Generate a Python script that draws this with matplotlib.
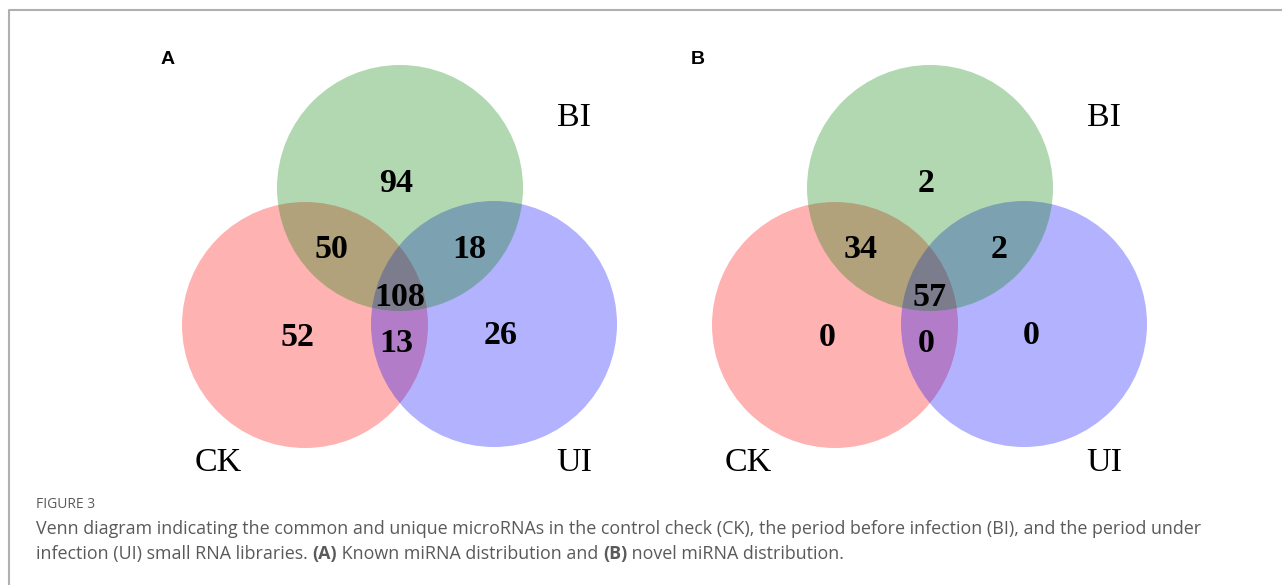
import matplotlib
matplotlib.use("Agg")
import matplotlib.pyplot as plt
from matplotlib.patches import Circle
from matplotlib.lines import Line2D

W, H = 1282, 585
set_names = ["CK", "BI", "UI"]
set_colors = ["red", "green", "blue"]
# region counts: only CK, only BI, only UI, CK&BI, BI&UI, CK&UI, all
known_counts = [52, 94, 26, 50, 18, 13, 108]
novel_counts = [0, 2, 0, 34, 2, 0, 57]
panel_letters = ["A", "B"]

fig = plt.figure(figsize=(W / 100, H / 100), dpi=100)
ax = fig.add_axes([0, 0, 1, 1])
ax.set_xlim(0, W)
ax.set_ylim(H, 0)
ax.axis("off")

# frame (top + left)
ax.add_line(Line2D([9, 9, W], [H, 10, 10], color="#b0b0b0", lw=1.5))

R = 123
centers = {"CK": (305, 325), "BI": (400, 188), "UI": (494, 324)}
draw_order = ["CK", "UI", "BI"]
color_of = dict(zip(set_names, set_colors))
region_pos = [(297, 337), (396, 183), (501, 336), (331, 249), (469, 249), (396, 344), (400, 297)]
name_pos = {"CK": (218, 463), "BI": (574, 118), "UI": (574, 463)}
serif = "Liberation Serif"

for p, (letter, counts) in enumerate(zip(panel_letters, [known_counts, novel_counts])):
    dx = 530 * p
    ax.text(161 + dx, 60, letter, fontsize=14, fontweight="bold",
            family="Liberation Sans", ha="left", va="center")
    for i, name in enumerate(draw_order):
        cx, cy = centers[name]
        ax.add_patch(Circle((cx + dx, cy), R, facecolor=color_of[name],
                            alpha=0.3, edgecolor="none", zorder=2 + i))
    for (x, y), c in zip(region_pos, counts):
        ax.text(x + dx, y, str(c), fontsize=24.5, fontweight="bold", family=serif,
                ha="center", va="center", zorder=10)
    for name in set_names:
        x, y = name_pos[name]
        ax.text(x + dx, y, name, fontsize=24.5, family=serif,
                ha="center", va="center", zorder=10)

cap_font = "Open Sans"
cap_color = "#5a5a5a"
ax.text(36, 505, "FIGURE 3", fontsize=10, family=cap_font, color=cap_color,
        ha="left", va="center")

fig.canvas.draw()
renderer = fig.canvas.get_renderer()

def write_line(x, y, pieces):
    for txt, bold in pieces:
        t = ax.text(x, y, txt, fontsize=12.9, family=cap_font, color=cap_color,
                    fontweight="bold" if bold else "normal", ha="left", va="center")
        bb = t.get_window_extent(renderer=renderer)
        x += bb.width

write_line(36, 529, [("Venn diagram indicating the common and unique microRNAs in the control check (CK), the period before infection (BI), and the period under", False)])
write_line(36, 554, [("infection (UI) small RNA libraries. ", False), ("(A)", True),
                     (" Known miRNA distribution and ", False), ("(B)", True),
                     (" novel miRNA distribution.", False)])

fig.savefig("out.png", dpi=100)
